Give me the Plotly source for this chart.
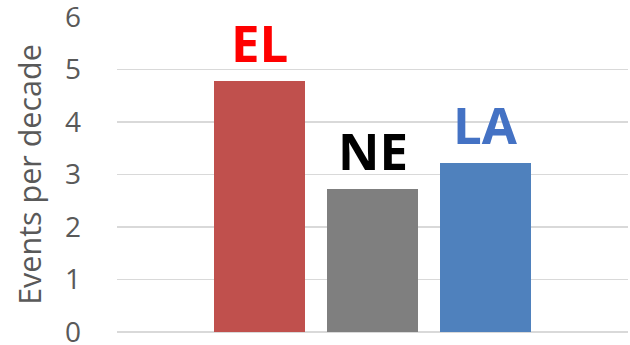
import plotly.graph_objects as go

categories = ["EL", "NE", "LA"]
values = [4.78, 2.72, 3.22]
bar_colors = ["#C0504D", "#7F7F7F", "#4F81BD"]
label_colors = ["#FF0000", "#000000", "#4472C4"]
y_ticks = [0, 1, 2, 3, 4, 5, 6]
y_title = "Events per decade"

xpos = list(range(len(categories)))

fig = go.Figure()
fig.add_trace(go.Bar(
    x=xpos, y=values, width=0.8,
    marker=dict(color=bar_colors, line=dict(width=0)),
    hoverinfo="skip", showlegend=False, cliponaxis=False,
))

for xi, v, c, col in zip(xpos, values, categories, label_colors):
    fig.add_annotation(
        x=xi, y=v, text="<b>%s</b>" % c, showarrow=False,
        xanchor="center", yanchor="bottom", yshift=2,
        font=dict(family="Open Sans", size=51, color=col),
    )

fig.update_layout(
    width=630, height=345,
    margin=dict(l=117, r=2, t=17, b=13),
    paper_bgcolor="white", plot_bgcolor="white",
    font=dict(family="Open Sans", color="#595959"),
    bargap=0,
)
fig.update_xaxes(
    range=[-1.255, 3.255], showticklabels=False, showgrid=False,
    zeroline=False, showline=False, ticks="", automargin=False,
)
fig.update_yaxes(
    range=[-0.0001, 6.0001], tickvals=y_ticks, ticktext=[str(t) for t in y_ticks],
    tickfont=dict(size=28, color="#595959"),
    showgrid=True, gridcolor="#D9D9D9", gridwidth=1.3,
    zeroline=True, zerolinecolor="#D9D9D9", zerolinewidth=1.3,
    showline=False, ticks="", ticklabelstandoff=35, automargin=False,
    ticklabeloverflow="allow",
    title=dict(text=y_title, font=dict(size=30.5, color="#595959"), standoff=14),
)

fig.write_html(
    "out.html",
    config={"displayModeBar": False, "staticPlot": True},
    post_script="document.body.style.margin='0';document.body.style.overflow='hidden';",
)
